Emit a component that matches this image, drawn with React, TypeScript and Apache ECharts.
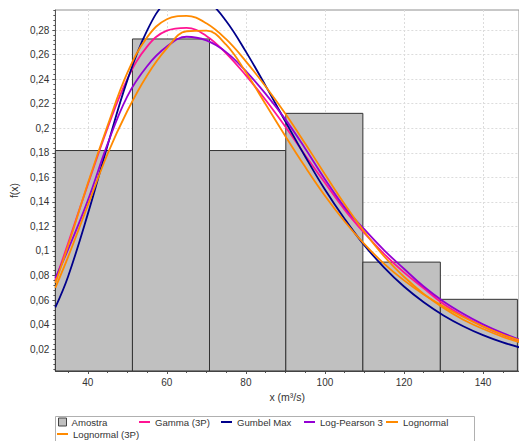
import React, { useEffect, useRef } from "react";
import * as echarts from "echarts";

// Histogram (relative frequencies per bin)
const binEdges = [31.8, 51.3, 70.8, 90.1, 109.6, 129.2, 148.7];
const binFreq = [0.1818, 0.2727, 0.1818, 0.2121, 0.0909, 0.0606];

// Fitted curves, sampled at curveX
const curveX = [31.8, 35, 40, 45, 50, 55, 60, 65, 70, 75, 80, 85, 90, 95, 100, 105, 110, 115, 120, 125, 130, 135, 140, 145, 150];
const gamma3P = [0.076, 0.106, 0.154, 0.2, 0.24, 0.2665, 0.2795, 0.2818, 0.2752, 0.261, 0.243, 0.223, 0.2012, 0.178, 0.1555, 0.1335, 0.1145, 0.0975, 0.0825, 0.0695, 0.0568, 0.047, 0.0386, 0.0316, 0.0258];
const gumbelMax = [0.054, 0.079, 0.13, 0.186, 0.239, 0.2795, 0.304, 0.312, 0.305, 0.2874, 0.2624, 0.2345, 0.2055, 0.177, 0.15, 0.126, 0.1045, 0.0865, 0.071, 0.0582, 0.0475, 0.0387, 0.0314, 0.0255, 0.0207];
const logPearson3 = [0.078, 0.101, 0.141, 0.187, 0.226, 0.2505, 0.2665, 0.2745, 0.2715, 0.262, 0.2465, 0.228, 0.2072, 0.1835, 0.1585, 0.1355, 0.1175, 0.1005, 0.0855, 0.071, 0.0588, 0.0488, 0.0402, 0.033, 0.0268];
const lognormal = [0.074, 0.104, 0.155, 0.202, 0.245, 0.274, 0.2888, 0.2915, 0.2855, 0.2725, 0.2545, 0.234, 0.2118, 0.1875, 0.1625, 0.138, 0.1155, 0.0955, 0.079, 0.065, 0.0535, 0.044, 0.0365, 0.03, 0.025];
const lognormal3P = [0.07, 0.095, 0.137, 0.179, 0.214, 0.243, 0.265, 0.279, 0.2795, 0.268, 0.2455, 0.2195, 0.1935, 0.1685, 0.145, 0.124, 0.1055, 0.0895, 0.076, 0.0645, 0.0548, 0.0462, 0.0385, 0.0318, 0.0265];

// Axis ticks
const xMajorTicks = [40, 60, 80, 100, 120, 140];
const xMinorTicks = [35, 40, 45, 50, 55, 60, 65, 70, 75, 80, 85, 90, 95, 100, 105, 110, 115, 120, 125, 130, 135, 140, 145];
const yMajorTicks = [0.02, 0.04, 0.06, 0.08, 0.1, 0.12, 0.14, 0.16, 0.18, 0.2, 0.22, 0.24, 0.26, 0.28];
const yMinorTicks = [0.004, 0.008, 0.012, 0.016, 0.02, 0.024, 0.028, 0.032, 0.036, 0.04, 0.044, 0.048, 0.052, 0.056, 0.06, 0.064, 0.068, 0.072, 0.076, 0.08, 0.084, 0.088, 0.092, 0.096, 0.1, 0.104, 0.108, 0.112, 0.116, 0.12, 0.124, 0.128, 0.132, 0.136, 0.14, 0.144, 0.148, 0.152, 0.156, 0.16, 0.164, 0.168, 0.172, 0.176, 0.18, 0.184, 0.188, 0.192, 0.196, 0.2, 0.204, 0.208, 0.212, 0.216, 0.22, 0.224, 0.228, 0.232, 0.236, 0.24, 0.244, 0.248, 0.252, 0.256, 0.26, 0.264, 0.268, 0.272, 0.276, 0.28, 0.284, 0.288, 0.292, 0.296];

const seriesNames = ["Amostra", "Gamma (3P)", "Gumbel Max", "Log-Pearson 3", "Lognormal", "Lognormal (3P)"];
const seriesColors = ["#c0c0c0", "#ff1493", "#00008b", "#9400d3", "#ff8a00", "#ff8a00"];

const X_MIN = 31.8;
const X_MAX = 149.1;
const Y_MIN = 0.0022;
const Y_MAX = 0.2963;
const FONT = "'Liberation Sans', Arial, sans-serif";

export default function App() {
  const ref = useRef<HTMLDivElement>(null);
  useEffect(() => {
    if (!ref.current) return;
    const chart = echarts.init(ref.current, undefined, { renderer: "svg" });
    const curves = [gamma3P, gumbelMax, logPearson3, lognormal, lognormal3P];
    const fmtY = (v: number) => String(Math.round(v * 100) / 100).replace(".", ",");
    const legendPos = [
      { left: 58, top: 417, w: 8, h: 8 },
      { left: 139, top: 417, w: 11, h: 2 },
      { left: 221, top: 417, w: 11, h: 2 },
      { left: 304, top: 417, w: 11, h: 2 },
      { left: 386, top: 417, w: 12, h: 2 },
      { left: 57, top: 429, w: 11, h: 2 },
    ];
    const gridLine = { show: true, lineStyle: { color: "#dcdcdc", type: [2, 2], width: 1 } };
    const option: any = {
      animation: false,
      backgroundColor: "#ffffff",
      grid: {
        left: 55,
        top: 10,
        right: -4,
        bottom: 70,
        show: true,
        backgroundColor: "#ffffff",
        borderColor: "#909090",
        borderWidth: 1,
      },
      legend: seriesNames.map((n, i) => ({
        data: [n],
        left: legendPos[i].left,
        top: legendPos[i].top,
        padding: 0,
        itemWidth: legendPos[i].w,
        itemHeight: legendPos[i].h,
        icon: "rect",
        selectedMode: false,
        itemStyle: i === 0 ? { borderColor: "#444", borderWidth: 1 } : {},
        textStyle: { fontFamily: FONT, fontSize: 9.6, color: "#333" },
      })),
      graphic: [
        {
          type: "rect",
          silent: true,
          z: -1,
          shape: { x: 55.5, y: 416.5, width: 419, height: 40 },
          style: { fill: "none", stroke: "#b0b0b0", lineWidth: 1 },
        },
      ],
      xAxis: [
        {
          type: "value",
          min: X_MIN,
          max: X_MAX,
          position: "bottom",
          splitNumber: 6,
          name: "x (m³/s)",
          nameLocation: "middle",
          nameGap: 14,
          nameTextStyle: { fontFamily: FONT, fontSize: 10.5, color: "#333" },
          axisLine: { show: true, onZero: false, lineStyle: { color: "#555", width: 1 } },
          axisTick: { show: true, customValues: xMajorTicks, length: 3, lineStyle: { color: "#555" } },
          axisLabel: {
            customValues: xMajorTicks,
            margin: 6,
            color: "#333",
            fontFamily: FONT,
            fontSize: 10,
          },
          splitLine: gridLine,
        },
        {
          type: "value",
          min: X_MIN,
          max: X_MAX,
          position: "bottom",
          axisLine: { show: false, onZero: false },
          axisTick: { show: true, customValues: xMinorTicks, length: 2, lineStyle: { color: "#555" } },
          axisLabel: { show: false },
          splitLine: { show: false },
        },
      ],
      yAxis: [
        {
          type: "value",
          min: Y_MIN,
          max: Y_MAX,
          position: "left",
          splitNumber: 14,
          name: "f(x)",
          nameLocation: "middle",
          nameGap: 32,
          nameTextStyle: { fontFamily: FONT, fontSize: 10.5, color: "#333" },
          axisLine: { show: true, onZero: false, lineStyle: { color: "#555", width: 1 } },
          axisTick: { show: true, customValues: yMajorTicks, length: 3, lineStyle: { color: "#555" } },
          axisLabel: {
            customValues: yMajorTicks,
            margin: 6,
            color: "#333",
            fontFamily: FONT,
            fontSize: 10,
            formatter: fmtY,
          },
          splitLine: gridLine,
        },
        {
          type: "value",
          min: Y_MIN,
          max: Y_MAX,
          position: "left",
          axisLine: { show: false, onZero: false },
          axisTick: { show: true, customValues: yMinorTicks, length: 2, lineStyle: { color: "#555" } },
          axisLabel: { show: false },
          splitLine: { show: false },
        },
      ],
      series: [
        {
          type: "custom",
          name: seriesNames[0],
          z: 2,
          itemStyle: { color: seriesColors[0] },
          data: binFreq.map((f, i) => [binEdges[i], binEdges[i + 1], f]),
          encode: { x: [0, 1], y: 2 },
          renderItem: (params: any, api: any) => {
            const p0 = api.coord([api.value(0), api.value(2)]);
            const p1 = api.coord([api.value(1), 0]);
            const cs = params.coordSys;
            const rect = echarts.graphic.clipRectByRect(
              { x: p0[0], y: p0[1], width: p1[0] - p0[0], height: p1[1] - p0[1] },
              { x: cs.x, y: cs.y, width: cs.width, height: cs.height }
            );
            if (!rect) return null;
            return {
              type: "rect",
              shape: rect,
              style: { fill: seriesColors[0], stroke: "#333", lineWidth: 1 },
            };
          },
        },
        ...curves.map((vals, i) => ({
          type: "line",
          name: seriesNames[i + 1],
          z: 3 + i,
          data: curveX.map((x, j) => [x, vals[j]]),
          smooth: 0.4,
          showSymbol: false,
          symbol: "none",
          clip: true,
          itemStyle: { color: seriesColors[i + 1] },
          lineStyle: { color: seriesColors[i + 1], width: 1.8 },
        })),
      ],
    };
    chart.setOption(option);
    return () => chart.dispose();
  }, []);
  return (
    <div
      ref={ref}
      style={{ position: "fixed", left: 0, top: 0, width: 519, height: 441, background: "#fff" }}
    />
  );
}
